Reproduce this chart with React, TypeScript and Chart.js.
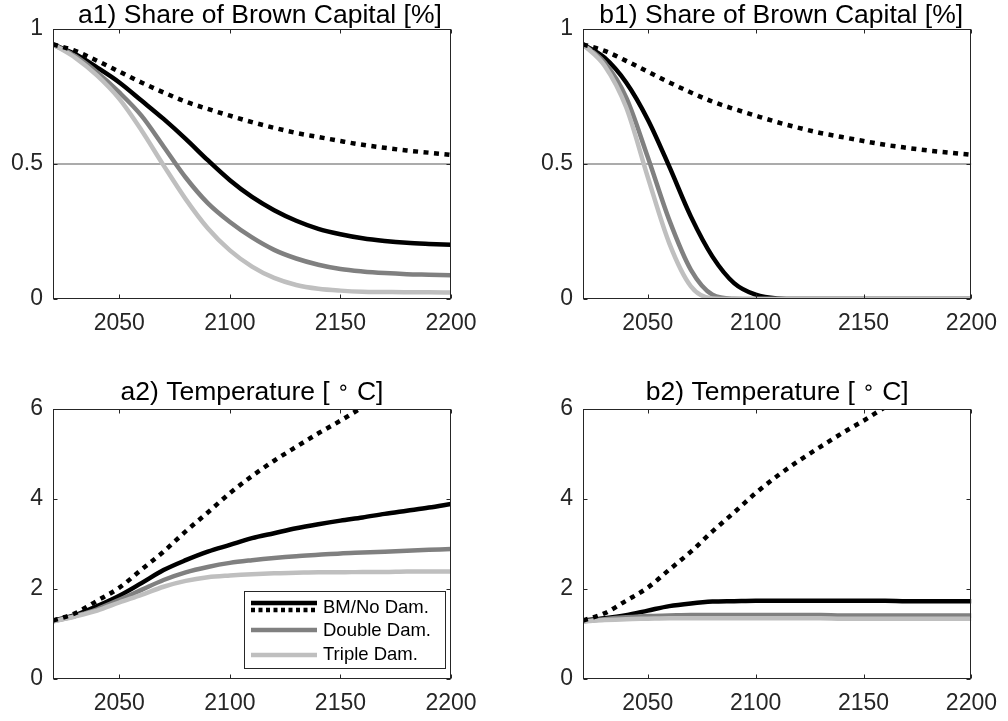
import React, { useEffect, useRef } from "react";
import { Chart, registerables } from "chart.js";

Chart.register(...registerables);

// ---- data ---------------------------------------------------------------
const YEARS = [2020, 2030, 2040, 2050, 2060, 2070, 2080, 2090, 2100, 2110, 2120, 2130, 2140, 2150, 2160, 2170, 2180, 2190, 2200];

// share of brown capital, no-damage baseline (same in both columns)
const SHARE_NO_DAM = [0.943, 0.919, 0.882, 0.842, 0.802, 0.765, 0.731, 0.704, 0.679, 0.655, 0.634, 0.615, 0.6, 0.585, 0.571, 0.56, 0.55, 0.542, 0.534];
const SHARE_A_BM = [0.943, 0.907, 0.857, 0.802, 0.735, 0.667, 0.593, 0.514, 0.44, 0.378, 0.329, 0.29, 0.26, 0.24, 0.225, 0.215, 0.208, 0.204, 0.201];
const SHARE_A_DOUBLE = [0.943, 0.9, 0.839, 0.765, 0.679, 0.565, 0.45, 0.355, 0.285, 0.228, 0.182, 0.15, 0.127, 0.111, 0.102, 0.096, 0.092, 0.09, 0.088];
const SHARE_A_TRIPLE = [0.943, 0.894, 0.827, 0.741, 0.625, 0.495, 0.37, 0.262, 0.18, 0.12, 0.078, 0.052, 0.038, 0.031, 0.027, 0.026, 0.025, 0.025, 0.024];
const SHARE_B_BM = [0.943, 0.894, 0.802, 0.665, 0.49, 0.305, 0.157, 0.059, 0.016, 0.002, 0, 0, 0, 0, 0, 0, 0, 0, 0];
const SHARE_B_DOUBLE = [0.943, 0.876, 0.747, 0.526, 0.292, 0.108, 0.016, 0.001, 0, 0, 0, 0, 0, 0, 0, 0, 0, 0, 0];
const SHARE_B_TRIPLE = [0.943, 0.864, 0.71, 0.452, 0.206, 0.047, 0.002, 0, 0, 0, 0, 0, 0, 0, 0, 0, 0, 0, 0];

// temperature [deg C]
const TEMP_NO_DAM = [1.3, 1.46, 1.74, 2.03, 2.43, 2.83, 3.28, 3.7, 4.13, 4.51, 4.85, 5.16, 5.46, 5.74, 6.04, 6.33, 6.6, 6.88, 7.15];
const TEMP_A_BM = [1.3, 1.42, 1.62, 1.85, 2.13, 2.42, 2.64, 2.83, 2.98, 3.13, 3.24, 3.35, 3.44, 3.52, 3.59, 3.67, 3.74, 3.81, 3.89];
const TEMP_A_DOUBLE = [1.28, 1.4, 1.55, 1.76, 1.98, 2.2, 2.37, 2.49, 2.58, 2.64, 2.69, 2.73, 2.76, 2.79, 2.81, 2.83, 2.85, 2.87, 2.89];
const TEMP_A_TRIPLE = [1.28, 1.39, 1.52, 1.7, 1.87, 2.05, 2.18, 2.26, 2.3, 2.33, 2.35, 2.36, 2.37, 2.37, 2.38, 2.38, 2.39, 2.39, 2.39];
const TEMP_B_BM = [1.3, 1.35, 1.42, 1.52, 1.62, 1.68, 1.72, 1.73, 1.74, 1.74, 1.74, 1.74, 1.74, 1.74, 1.74, 1.73, 1.73, 1.73, 1.73];
const TEMP_B_DOUBLE = [1.28, 1.33, 1.37, 1.4, 1.41, 1.42, 1.42, 1.42, 1.42, 1.42, 1.42, 1.42, 1.41, 1.41, 1.41, 1.41, 1.41, 1.41, 1.41];
const TEMP_B_TRIPLE = [1.28, 1.31, 1.33, 1.34, 1.35, 1.35, 1.35, 1.35, 1.35, 1.35, 1.35, 1.35, 1.34, 1.34, 1.34, 1.34, 1.34, 1.34, 1.34];

// 50 % reference level in the share panels
const HALF_SHARE = 0.5;

const X_TICKS = [2050, 2100, 2150, 2200];
const SHARE_TICKS = [0, 0.5, 1];
const TEMP_TICKS = [0, 2, 4, 6];
const LEGEND_LABELS = ["BM/No Dam.", "Double Dam.", "Triple Dam."];

// ---- styling --------------------------------------------------------------
const FONT = "'Liberation Sans', Arial, Helvetica, sans-serif";
const AXIS_COLOR = "#262626";
const C_BM = "#000000";
const C_DOUBLE = "#808080";
const C_TRIPLE = "#bfbfbf";
const C_HALF = "#8f8f8f";
const LW = 4.5;
const DOT_DASH = [5, 5.5];

type TitlePart = { text: string; sup?: boolean };

type Panel = {
  key: string;
  left: number;
  top: number;
  w: number;
  h: number;
  area: { l: number; t: number; r: number; b: number };
  title: TitlePart[];
  titleBaseline: number;
  titleDx: number;
  yMin: number;
  yMax: number;
  yTicks: number[];
  noDam: number[];
  bm: number[];
  dbl: number[];
  tpl: number[];
  half: boolean;
  legend: boolean;
};

const pts = (arr: number[]) => YEARS.map((x, i) => ({ x, y: arr[i] }));

function lineDs(label: string, arr: number[], color: string, dash: number[] = []) {
  return {
    label,
    data: pts(arr),
    borderColor: color,
    backgroundColor: color,
    borderWidth: LW,
    borderDash: dash,
    borderCapStyle: "butt" as const,
    pointRadius: 0,
    cubicInterpolationMode: "monotone" as const,
    fill: false,
  };
}

function drawTitle(ctx: CanvasRenderingContext2D, parts: TitlePart[], cx: number, baseline: number) {
  const main = `26.5px ${FONT}`;
  const small = `20px 'DejaVu Sans', ${FONT}`;
  ctx.save();
  ctx.fillStyle = "#000";
  ctx.textBaseline = "alphabetic";
  ctx.textAlign = "left";
  let total = 0;
  const widths = parts.map((p) => {
    ctx.font = p.sup ? small : main;
    const w = ctx.measureText(p.text).width;
    total += w;
    return w;
  });
  let x = cx - total / 2;
  parts.forEach((p, i) => {
    ctx.font = p.sup ? small : main;
    ctx.fillText(p.text, x, p.sup ? baseline - 6 : baseline);
    x += widths[i];
  });
  ctx.restore();
}

const frameAndTitle = {
  id: "frameAndTitle",
  afterDatasetsDraw(chart: any) {
    const ctx: CanvasRenderingContext2D = chart.ctx;
    const a = chart.chartArea;
    const panel: Panel = chart.options.plugins.frameAndTitle.panel;
    const xs = chart.scales.x;
    const ys = chart.scales.y;
    ctx.save();
    ctx.strokeStyle = AXIS_COLOR;
    ctx.lineWidth = 1;
    const L = Math.round(a.left) + 0.5;
    const R = Math.round(a.right) - 0.5;
    const T = Math.round(a.top) + 0.5;
    const B = Math.round(a.bottom) - 0.5;
    ctx.strokeRect(L, T, R - L, B - T);
    const tick = 4;
    ctx.beginPath();
    X_TICKS.forEach((v) => {
      const px = Math.round(xs.getPixelForValue(v)) + 0.5;
      ctx.moveTo(px, B);
      ctx.lineTo(px, B - tick);
      ctx.moveTo(px, T);
      ctx.lineTo(px, T + tick);
    });
    panel.yTicks.forEach((v) => {
      const py = Math.round(ys.getPixelForValue(v)) + 0.5;
      ctx.moveTo(L, py);
      ctx.lineTo(L + tick, py);
      ctx.moveTo(R, py);
      ctx.lineTo(R - tick, py);
    });
    ctx.stroke();
    ctx.restore();

    drawTitle(ctx, panel.title, (a.left + a.right) / 2 + panel.titleDx, panel.titleBaseline);

    if (panel.legend) {
      const bx = 244.5, by = 231.5, bw = 201, bh = 77;
      ctx.save();
      ctx.fillStyle = "#fff";
      ctx.fillRect(bx, by, bw, bh);
      ctx.strokeStyle = AXIS_COLOR;
      ctx.lineWidth = 1;
      ctx.strokeRect(bx, by, bw, bh);
      const x0 = 251, x1 = 317;
      const seg = (y: number, color: string, dash: number[]) => {
        ctx.beginPath();
        ctx.setLineDash(dash);
        ctx.lineCap = "butt";
        ctx.strokeStyle = color;
        ctx.lineWidth = LW;
        ctx.moveTo(x0, y);
        ctx.lineTo(x1, y);
        ctx.stroke();
      };
      seg(243, C_BM, []);
      seg(250, C_BM, [4, 3.5]);
      seg(270, C_DOUBLE, []);
      seg(295, C_TRIPLE, []);
      ctx.setLineDash([]);
      ctx.fillStyle = "#000";
      ctx.font = `18.5px ${FONT}`;
      ctx.textAlign = "left";
      ctx.textBaseline = "middle";
      ctx.fillText(LEGEND_LABELS[0], 323, 248);
      ctx.fillText(LEGEND_LABELS[1], 323, 271);
      ctx.fillText(LEGEND_LABELS[2], 323, 295);
      ctx.restore();
    }
  },
};

function buildConfig(p: Panel): any {
  const datasets: any[] = [
    lineDs("No Dam.", p.noDam, C_BM, DOT_DASH),
    lineDs("Triple Dam.", p.tpl, C_TRIPLE),
    lineDs("Double Dam.", p.dbl, C_DOUBLE),
    lineDs("BM", p.bm, C_BM),
  ];
  if (p.half) {
    datasets.push({
      label: "50%",
      data: [
        { x: YEARS[0], y: HALF_SHARE },
        { x: YEARS[YEARS.length - 1], y: HALF_SHARE },
      ],
      borderColor: C_HALF,
      borderWidth: 1.5,
      pointRadius: 0,
      fill: false,
    });
  }
  const tickFont = { family: FONT, size: 23 };
  return {
    type: "line",
    data: { datasets },
    plugins: [frameAndTitle],
    options: {
      responsive: false,
      animation: false,
      devicePixelRatio: 1,
      layout: {
        autoPadding: false,
        padding: { left: 0, top: p.area.t, right: p.w - p.area.r, bottom: 0 },
      },
      plugins: {
        legend: { display: false },
        tooltip: { enabled: false },
        title: { display: false },
        frameAndTitle: { panel: p },
      },
      scales: {
        x: {
          type: "linear",
          min: 2020,
          max: 2200,
          grid: { display: false, drawTicks: false },
          border: { display: false },
          afterBuildTicks: (s: any) => {
            s.ticks = X_TICKS.map((value) => ({ value }));
          },
          afterFit: (s: any) => {
            s.height = p.h - p.area.b;
          },
          ticks: {
            font: tickFont,
            color: AXIS_COLOR,
            padding: 11,
            maxRotation: 0,
            autoSkip: false,
            callback: (v: any) => String(v),
          },
        },
        y: {
          type: "linear",
          min: p.yMin,
          max: p.yMax,
          grid: { display: false, drawTicks: false },
          border: { display: false },
          afterBuildTicks: (s: any) => {
            s.ticks = p.yTicks.map((value) => ({ value }));
          },
          afterFit: (s: any) => {
            s.width = p.area.l;
          },
          ticks: {
            font: tickFont,
            color: AXIS_COLOR,
            padding: 10,
            autoSkip: false,
            callback: (v: any) => String(v),
          },
        },
      },
    },
  };
}

const PANELS: Panel[] = [
  {
    key: "a1",
    left: 0, top: 0, w: 504, h: 360,
    area: { l: 53, t: 29, r: 451, b: 299 },
    title: [{ text: "a1) Share of Brown Capital [%]" }],
    titleBaseline: 23,
    titleDx: 8,
    yMin: 0, yMax: 1, yTicks: SHARE_TICKS,
    noDam: SHARE_NO_DAM, bm: SHARE_A_BM, dbl: SHARE_A_DOUBLE, tpl: SHARE_A_TRIPLE,
    half: true, legend: false,
  },
  {
    key: "b1",
    left: 504, top: 0, w: 504, h: 360,
    area: { l: 79, t: 29, r: 477, b: 299 },
    title: [{ text: "b1) Share of Brown Capital [%]" }],
    titleBaseline: 23,
    titleDx: 4,
    yMin: 0, yMax: 1, yTicks: SHARE_TICKS,
    noDam: SHARE_NO_DAM, bm: SHARE_B_BM, dbl: SHARE_B_DOUBLE, tpl: SHARE_B_TRIPLE,
    half: true, legend: false,
  },
  {
    key: "a2",
    left: 0, top: 360, w: 504, h: 361,
    area: { l: 53, t: 49, r: 451, b: 319 },
    title: [{ text: "a2) Temperature [ " }, { text: "\u2218", sup: true }, { text: " C]" }],
    titleBaseline: 40,
    titleDx: 0,
    yMin: 0, yMax: 6, yTicks: TEMP_TICKS,
    noDam: TEMP_NO_DAM, bm: TEMP_A_BM, dbl: TEMP_A_DOUBLE, tpl: TEMP_A_TRIPLE,
    half: false, legend: true,
  },
  {
    key: "b2",
    left: 504, top: 360, w: 504, h: 361,
    area: { l: 79, t: 49, r: 477, b: 319 },
    title: [{ text: "b2) Temperature [ " }, { text: "\u2218", sup: true }, { text: " C]" }],
    titleBaseline: 40,
    titleDx: 0,
    yMin: 0, yMax: 6, yTicks: TEMP_TICKS,
    noDam: TEMP_NO_DAM, bm: TEMP_B_BM, dbl: TEMP_B_DOUBLE, tpl: TEMP_B_TRIPLE,
    half: false, legend: false,
  },
];

function PanelChart({ panel }: { panel: Panel }) {
  const ref = useRef<HTMLCanvasElement | null>(null);
  useEffect(() => {
    if (!ref.current) return;
    const chart = new Chart(ref.current, buildConfig(panel));
    return () => chart.destroy();
  }, [panel]);
  return (
    <canvas
      ref={ref}
      width={panel.w}
      height={panel.h}
      style={{ position: "absolute", left: panel.left, top: panel.top, width: panel.w, height: panel.h }}
    />
  );
}

export default function App() {
  return (
    <div style={{ position: "fixed", left: 0, top: 0, width: 1008, height: 721, background: "#fff", overflow: "hidden" }}>
      {PANELS.map((p) => (
        <PanelChart key={p.key} panel={p} />
      ))}
    </div>
  );
}
